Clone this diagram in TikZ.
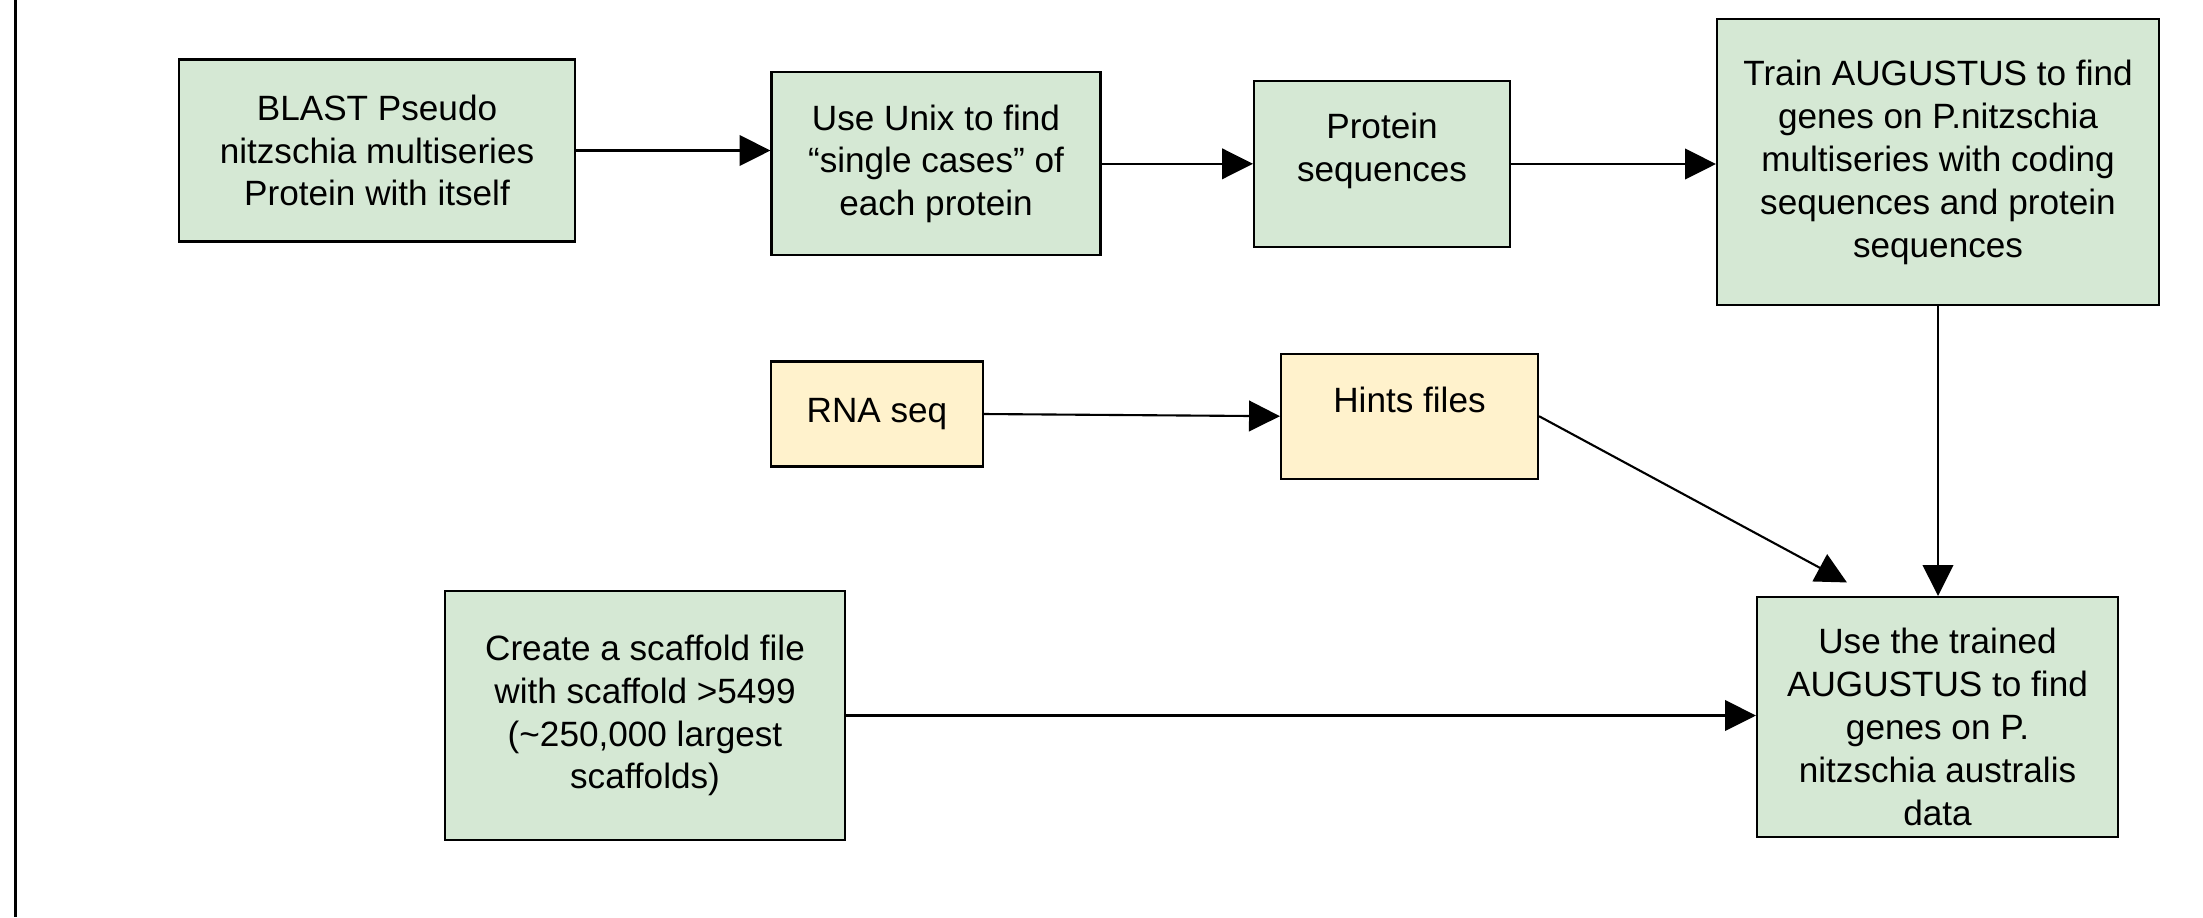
\documentclass[tikz,border=0pt]{standalone}
\usepackage{fontspec}
\setmainfont{Liberation Sans}
\usetikzlibrary{arrows.meta}

\definecolor{stepgreen}{HTML}{D5E8D4}
\definecolor{inputyellow}{HTML}{FFF2CC}

\begin{document}
\begin{tikzpicture}[
    base/.style = {rectangle, draw=black, line width=0.6pt,
      inner sep=0pt, align=center, font=\fontsize{10pt}{12.2pt}\selectfont},
    process/.style = {base, fill=stepgreen},
    inputdata/.style = {base, fill=inputyellow},
    boxtext/.style = {align=center, font=\fontsize{10pt}{12.2pt}\selectfont},
    flow/.style = {line width=0.6pt, -{Triangle[length=8.8pt, width=8.7pt]}}
]
  \useasboundingbox (0,0) rectangle (22.03,-9.17);
  \draw[line width=0.6pt] (0.155,0) -- (0.155,-9.17);

  % top row
  \node (blast) [process, minimum width=3.96cm, minimum height=1.82cm] at (3.77,-1.505)
    {BLAST Pseudo\\nitzschia multiseries\\Protein with itself};
  \node (unix) [process, minimum width=3.29cm, minimum height=1.83cm] at (9.36,-1.638)
    {Use Unix to find\\“single cases” of\\each protein};
  \node (protein) [process, minimum width=2.56cm, minimum height=1.66cm,
    label={[boxtext, yshift=0.13cm]center:Protein\\sequences}] at (13.82,-1.64) {};
  \node (train) [process, minimum width=4.42cm, minimum height=2.86cm] at (19.38,-1.622)
    {Train AUGUSTUS to find\\genes on P.nitzschia\\multiseries with coding\\sequences and protein\\sequences};

  % middle row
  \node (rna) [inputdata, minimum width=2.12cm, minimum height=1.05cm] at (8.77,-4.14)
    {RNA seq};
  \node (hints) [inputdata, minimum width=2.57cm, minimum height=1.25cm,
    label={[boxtext, yshift=0.16cm]center:Hints files}] at (14.095,-4.162) {};

  % bottom row
  \node (scaffold) [process, minimum width=4.0cm, minimum height=2.49cm] at (6.45,-7.155)
    {Create a scaffold file\\with scaffold >5499\\(\textasciitilde250,000 largest\\scaffolds)};
  \node (use) [process, minimum width=3.61cm, minimum height=2.40cm,
    label={[boxtext, yshift=-0.1cm]center:Use the trained\\AUGUSTUS to find\\genes on P.\\nitzschia australis\\data}] at (19.375,-7.17) {};

  \coordinate (hintsend) at ([xshift=0.91cm, yshift=0.135cm]use.north west);

  \draw[flow] (blast.east) -- (blast.east -| unix.west);
  \draw[flow] (unix.east) -- (unix.east -| protein.west);
  \draw[flow] (protein.east) -- (protein.east -| train.west);
  \draw[flow] (train.south) -- (train.south |- use.north);
  \draw[flow] (rna.east) -- (hints.west);
  \draw[flow] (hints.east) -- (hintsend);
  \draw[flow] (scaffold.east) -- (scaffold.east -| use.west);

\end{tikzpicture}
\end{document}
